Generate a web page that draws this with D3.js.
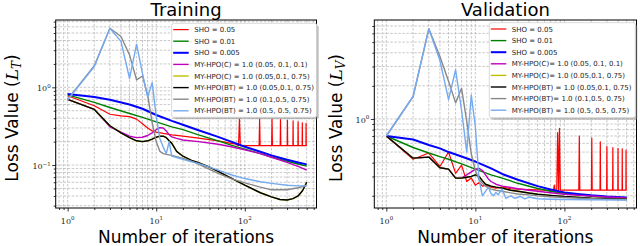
<!DOCTYPE html>
<html lang="en">
<head>
<meta charset="UTF-8">
<title>Training / Validation loss</title>
<script src="https://d3js.org/d3.v7.min.js"></script>
<style>
  body { margin: 0; background: #fff; }
  svg { display: block; font-family: "DejaVu Sans", sans-serif; }
  .grid line { stroke: #b0b0b0; stroke-width: 0.7; stroke-dasharray: 2.5,1.5; }
  .series { fill: none; stroke-linejoin: round; }
  .tick-label { font-family: "DejaVu Serif", serif; font-size: 8px; fill: #222; }
  .axis path { display: none; }
  .axis line { stroke: #000; stroke-width: 0.8; }
  .legend-text { font-size: 7px; fill: #222; }
</style>
</head>
<body>
<svg id="chart" width="640" height="246"></svg>
<script>
// ---------- values: [iteration, loss] ----------
const trainRedHead = [[1,0.78],[2,0.58],[3,0.45],[4,0.43],[5,0.42],[6,0.39],[7,0.34],[8,0.30],[9,0.275],[10,0.265],[12,0.255],[15,0.245],[20,0.235],[30,0.222],[50,0.205],[70,0.19],[80,0.185],[84,0.178]];
const trainRedSpikeIter = [87,147,203,253,303,351,400,446,492];
const trainRedSpikePeak = [0.39,0.39,0.39,0.385,0.38,0.37,0.36,0.35,0.345];
const trainRedFloor = 0.178;
const trainGreen = [[1,0.80],[2,0.64],[3,0.55],[5,0.46],[7,0.41],[10,0.36],[15,0.31],[20,0.285],[30,0.245],[50,0.205],[70,0.18],[100,0.16],[150,0.14],[200,0.127],[300,0.112],[400,0.103],[500,0.097]];
const trainBlue = [[1,0.82],[2,0.75],[3,0.69],[5,0.60],[7,0.53],[10,0.44],[15,0.37],[20,0.33],[30,0.28],[50,0.23],[70,0.2],[100,0.172],[150,0.148],[200,0.133],[300,0.117],[400,0.108],[500,0.102]];
const trainMagenta = [[1,0.70],[2,0.52],[3,0.31],[4,0.265],[5,0.235],[6,0.225],[7,0.228],[8,0.24],[9,0.26],[10,0.285],[11,0.302],[12,0.3],[13,0.275],[14,0.245],[15,0.23],[17,0.22],[20,0.21],[30,0.2],[50,0.185],[70,0.172],[100,0.157],[150,0.14],[200,0.126],[300,0.108],[400,0.096],[500,0.086]];
const trainBlack = [[1,0.70],[2,0.52],[3,0.32],[4,0.26],[5,0.225],[6,0.205],[7,0.2],[8,0.205],[9,0.215],[10,0.228],[11,0.235],[12,0.235],[13,0.225],[14,0.205],[15,0.19],[17,0.15],[20,0.13],[25,0.115],[30,0.107],[40,0.094],[50,0.083],[70,0.068],[100,0.055],[150,0.044],[200,0.039],[250,0.036],[300,0.0355],[350,0.037],[400,0.04],[450,0.047],[500,0.06]];
const trainYellow = trainBlack.map(d => d.slice());
const trainGray = [[1,0.70],[2,1.9],[3,5.75],[4,4.5],[5,2.6],[6,1.25],[7,1.4],[8,0.8],[9,0.35],[10,0.2],[11,0.15],[12,0.14],[13,0.137],[15,0.133],[17,0.128],[20,0.122],[25,0.112],[30,0.103],[40,0.088],[50,0.078],[70,0.067],[100,0.059],[150,0.052],[200,0.048],[300,0.048],[400,0.051],[500,0.055]];
const trainLightBlue = [[1,0.69],[2,1.85],[3,5.75],[4,3.9],[5,1.3],[6,3.6],[7,1.5],[8,0.75],[9,1.15],[10,0.42],[11,0.22],[12,0.17],[13,0.14],[14,0.2],[15,0.13],[17,0.125],[20,0.118],[25,0.11],[30,0.105],[40,0.094],[50,0.086],[70,0.075],[100,0.067],[150,0.061],[200,0.058],[300,0.055],[400,0.054],[500,0.054]];

const valRedHead = [[1,0.70],[2,0.43],[3,0.49],[4,0.37],[5,0.5],[6,0.32],[7,0.38],[8,0.27],[9,0.29],[10,0.25],[11,0.265],[12,0.245],[13,0.25],[15,0.24],[17,0.235],[20,0.24],[25,0.232],[30,0.23],[40,0.228],[50,0.227],[60,0.225],[70,0.222],[75,0.22],[77,0.25],[79,0.22],[82,0.225]];
const valRedSpikeIter = [84,88,147,203,253,300,350,400,446,492];
const valRedSpikePeak = [0.75,0.82,0.70,0.67,0.62,0.56,0.55,0.54,0.535,0.52];
const valRedFloor = 0.225;
const valGreen = [[1,0.70],[2,0.55],[3,0.49],[4,0.455],[5,0.43],[7,0.39],[10,0.35],[15,0.31],[20,0.29],[30,0.26],[50,0.233],[70,0.22],[100,0.21],[150,0.203],[200,0.198],[300,0.194],[500,0.19]];
const valBlue = [[1,0.70],[2,0.65],[3,0.58],[4,0.54],[5,0.5],[7,0.455],[10,0.41],[15,0.355],[20,0.316],[30,0.28],[50,0.245],[70,0.228],[100,0.215],[150,0.207],[200,0.202],[300,0.197],[500,0.193]];
const valMagenta = [[1,0.70],[2,0.44],[3,0.45],[4,0.36],[5,0.35],[6,0.29],[7,0.29],[8,0.31],[9,0.33],[10,0.35],[11,0.355],[12,0.34],[13,0.31],[14,0.285],[15,0.27],[17,0.255],[20,0.245],[25,0.238],[30,0.232],[40,0.225],[50,0.22],[70,0.213],[100,0.207],[150,0.202],[200,0.199],[300,0.195],[400,0.193],[500,0.191]];
const valBlack = [[1,0.70],[2,0.44],[3,0.45],[4,0.36],[5,0.35],[6,0.29],[7,0.29],[8,0.295],[9,0.30],[10,0.31],[11,0.3],[12,0.275],[13,0.255],[15,0.245],[17,0.24],[20,0.235],[25,0.225],[30,0.22],[40,0.212],[50,0.207],[70,0.202],[100,0.197],[150,0.193],[200,0.19],[300,0.188],[500,0.186]];
const valYellow = valBlack.map(d => d.slice());
const valGray = [[1,0.70],[2,1.6],[3,6.6],[4,3.7],[5,2.2],[6,1.4],[7,1.9],[8,0.95],[9,0.48],[10,0.34],[11,0.28],[12,0.26],[13,0.245],[15,0.23],[17,0.225],[20,0.22],[25,0.213],[30,0.208],[40,0.204],[50,0.2],[70,0.196],[100,0.193],[150,0.19],[200,0.188],[300,0.186],[400,0.185],[500,0.184]];
const valLightBlue = [[1,0.70],[2,1.6],[3,6.6],[4,3.4],[5,1.5],[6,2.8],[7,1.2],[8,0.5],[9,1.65],[10,0.85],[11,0.28],[12,0.2],[13,0.22],[14,0.24],[15,0.21],[16,0.2],[17,0.215],[18,0.205],[20,0.23],[22,0.19],[25,0.2],[28,0.19],[32,0.198],[36,0.188],[40,0.195],[50,0.188],[70,0.186],[100,0.185],[200,0.184],[500,0.183]];

const trainLabels = ["SHO  = 0.05", "SHO  = 0.01", "SHO  = 0.005",
  "MY-HPO(C) = 1.0  (0.05,  0.1,  0.1)", "MY-HPO(C) = 1.0  (0.05,0.1,  0.75)",
  "MY-HPO(BT) = 1.0  (0.05,0.1,  0.75)", "MY-HPO(BT) = 1.0  (0.1,0.5,  0.75)",
  "MY-HPO(BT) = 1.0  (0.5,  0.5,  0.75)"];
const valLabels = ["SHO  = 0.05", "SHO  = 0.01", "SHO  = 0.005",
  "MY-HPO(C)= 1.0  (0.05,  0.1,  0.1)", "MY-HPO(C)= 1.0  (0.05,0.1,  0.75)",
  "MY-HPO(BT) = 1.0  (0.05,0.1,  0.75)", "MY-HPO(BT)= 1.0  (0.1,0.5,  0.75)",
  "MY-HPO(BT) = 1.0  (0.5,  0.5,  0.75)"];
const seriesColors = ["#ff0000", "#008000", "#0000ff", "#bf00bf", "#bfbf00", "#000000", "#888888", "#74aaf0"];
const seriesWidths = [1.2, 1.4, 2, 1.4, 1.4, 1.4, 1.4, 1.4];

// red runs = smooth head, then narrow spikes on a flat floor
function withSpikes(head, iters, peaks, floor) {
  const pts = head.slice();
  iters.forEach((it, i) => {
    pts.push([it - 2, floor], [it, peaks[i]], [it + 2, floor]);
  });
  pts.push([500, floor]);
  return pts;
}

const panels = [
  { title: "Training", sub: "T", left: 55.7, right: 316.5, yDomain: [0.028, 7.35],
    series: [withSpikes(trainRedHead, trainRedSpikeIter, trainRedSpikePeak, trainRedFloor),
             trainGreen, trainBlue, trainMagenta, trainYellow, trainBlack, trainGray, trainLightBlue],
    labels: trainLabels, legend: { x: 171.7, y: 23.3, w: 145, h: 94 }, ylabelX: 18 },
  { title: "Validation", sub: "V", left: 374.3, right: 636.5, yDomain: [0.155, 7.94],
    series: [withSpikes(valRedHead, valRedSpikeIter, valRedSpikePeak, valRedFloor),
             valGreen, valBlue, valMagenta, valYellow, valBlack, valGray, valLightBlue],
    labels: valLabels, legend: { x: 489.3, y: 22.7, w: 146, h: 95 }, ylabelX: 342 }
];

const plotTop = 20, plotBottom = 208;
const xDomain = [0.733, 645];
const svg = d3.select("#chart");

panels.forEach((p, pi) => {
  const x = d3.scaleLog().domain(xDomain).range([p.left, p.right]);
  const y = d3.scaleLog().domain(p.yDomain).range([plotBottom, plotTop]);
  const isMajor = v => Math.abs(Math.log10(v) - Math.round(Math.log10(v))) < 1e-9;
  const xt = x.ticks(), yt = y.ticks();

  const g = svg.append("g");
  g.append("clipPath").attr("id", "clip" + pi)
    .append("rect").attr("x", p.left).attr("y", plotTop)
    .attr("width", p.right - p.left).attr("height", plotBottom - plotTop);

  // grid
  const grid = g.append("g").attr("class", "grid");
  grid.selectAll(".gx").data(xt).enter().append("line")
    .attr("x1", d => x(d)).attr("x2", d => x(d)).attr("y1", plotTop).attr("y2", plotBottom);
  grid.selectAll(".gy").data(yt).enter().append("line")
    .attr("y1", d => y(d)).attr("y2", d => y(d)).attr("x1", p.left).attr("x2", p.right);

  // lines
  const line = d3.line().x(d => x(d[0])).y(d => y(d[1]));
  g.append("g").attr("clip-path", `url(#clip${pi})`)
    .selectAll("path").data(p.series).enter().append("path")
    .attr("class", "series")
    .attr("stroke", (d, i) => seriesColors[i])
    .attr("stroke-width", (d, i) => seriesWidths[i])
    .attr("d", line);

  // axes: minor and major ticks
  const minorX = xt.filter(v => !isMajor(v)), majorX = xt.filter(isMajor);
  const minorY = yt.filter(v => !isMajor(v)), majorY = yt.filter(isMajor);
  g.append("g").attr("class", "axis").attr("transform", `translate(0,${plotBottom})`)
    .call(d3.axisBottom(x).tickValues(minorX).tickSize(2).tickFormat(""));
  g.append("g").attr("class", "axis").attr("transform", `translate(0,${plotBottom})`)
    .call(d3.axisBottom(x).tickValues(majorX).tickSize(3.5).tickFormat(""));
  g.append("g").attr("class", "axis").attr("transform", `translate(${p.left},0)`)
    .call(d3.axisLeft(y).tickValues(minorY).tickSize(2).tickFormat(""));
  g.append("g").attr("class", "axis").attr("transform", `translate(${p.left},0)`)
    .call(d3.axisLeft(y).tickValues(majorY).tickSize(3.5).tickFormat(""));

  const xl = g.selectAll(".xl").data(majorX).enter().append("text")
    .attr("class", "tick-label").attr("text-anchor", "middle")
    .attr("x", d => x(d)).attr("y", 223.5);
  xl.append("tspan").text("10");
  xl.append("tspan").attr("dy", -3.5).style("font-size", "5.5px")
    .text(d => String(Math.round(Math.log10(d))).replace("-", "\u2212"));

  const yl = g.selectAll(".yl").data(majorY).enter().append("text")
    .attr("class", "tick-label").attr("text-anchor", "end")
    .attr("x", p.left - 5).attr("y", d => y(d) + 4);
  yl.append("tspan").text("10");
  yl.append("tspan").attr("dy", -3.5).style("font-size", "5.5px")
    .text(d => String(Math.round(Math.log10(d))).replace("-", "\u2212"));

  // frame
  g.append("rect").attr("x", p.left).attr("y", plotTop)
    .attr("width", p.right - p.left).attr("height", plotBottom - plotTop)
    .attr("fill", "none").attr("stroke", "#000").attr("stroke-width", 1);

  // legend
  const L = p.legend;
  const lg = g.append("g");
  lg.append("rect").attr("x", L.x + 2).attr("y", L.y + 2).attr("width", L.w).attr("height", L.h)
    .attr("rx", 2).attr("fill", "#8a8a8a").attr("opacity", 0.55);
  lg.append("rect").attr("x", L.x).attr("y", L.y).attr("width", L.w).attr("height", L.h)
    .attr("rx", 2).attr("fill", "#fff").attr("stroke", "#cfcfcf").attr("stroke-width", 0.8);
  const rows = lg.selectAll(".row").data(p.labels).enter().append("g")
    .attr("transform", (d, i) => `translate(${L.x},${L.y + 6.3 + i * 11.6})`);
  rows.append("line").attr("x1", 1.5).attr("x2", 17)
    .attr("stroke", (d, i) => seriesColors[i]).attr("stroke-width", (d, i) => seriesWidths[i]);
  rows.append("text").attr("class", "legend-text").attr("x", 22.5).attr("y", 2.5).text(d => d);

  // labels
  const cx = (p.left + p.right) / 2;
  g.append("text").attr("x", cx).attr("y", 15.5).attr("text-anchor", "middle")
    .style("font-size", "18px").text(p.title);
  g.append("text").attr("x", cx).attr("y", 242.5).attr("text-anchor", "middle")
    .style("font-size", "17px").text("Number of iterations");
  const yt2 = g.append("text").attr("text-anchor", "middle")
    .attr("transform", `translate(${p.ylabelX},118) rotate(-90)`).style("font-size", "17px");
  yt2.append("tspan").text("Loss Value (");
  yt2.append("tspan").style("font-family", "DejaVu Serif, serif").style("font-style", "italic").text("L");
  yt2.append("tspan").attr("dy", 3).style("font-family", "DejaVu Serif, serif")
    .style("font-style", "italic").style("font-size", "12px").text(p.sub);
  yt2.append("tspan").attr("dy", -3).text(")");
});
</script>
</body>
</html>
